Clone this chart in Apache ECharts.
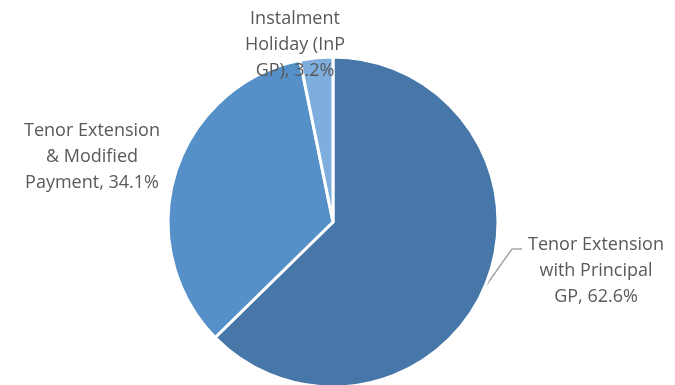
<!DOCTYPE html>
<html><head><meta charset="utf-8">
<script src="https://cdn.jsdelivr.net/npm/echarts@6/dist/echarts.min.js"></script>
<style>html,body{margin:0;padding:0;background:#fff}#c{width:675px;height:385px}</style>
</head><body><div id="c"></div>
<script>
var categories = ['Tenor Extension\nwith Principal\nGP', 'Tenor Extension\n& Modified\nPayment', 'Instalment\nHoliday (InP\nGP)'];
var values = [62.6, 34.1, 3.2];
var colors = ['#4677A8', '#5591C8', '#7EAEDD'];

var labelPos = [
  {x: 596, y: 271, line: [[485, 287], [512, 249], [522, 249]]},
  {x: 92, y: 157},
  {x: 295, y: 45}
];

var chart = echarts.init(document.getElementById('c'), null, {renderer: 'canvas'});
chart.setOption({
  animation: false,
  series: [{
    type: 'pie',
    center: [333, 222],
    radius: [0, 165],
    startAngle: 90,
    clockwise: true,
    avoidLabelOverlap: false,
    itemStyle: {borderColor: '#fff', borderWidth: 3},
    label: {
      show: true,
      position: 'outside',
      formatter: function (p) { return p.name + ', ' + p.value.toFixed(1) + '%'; },
      fontFamily: 'Open Sans',
      fontSize: 18,
      lineHeight: 26,
      color: '#595959',
      align: 'center',
      overflow: 'none',
      width: 300
    },
    labelLine: {show: false},
    labelLayout: function (params) {
      var lp = labelPos[params.dataIndex];
      var o = {x: lp.x, y: lp.y, align: 'center', verticalAlign: 'middle'};
      if (lp.line) o.labelLinePoints = lp.line;
      return o;
    },
    data: categories.map(function (c, i) {
      var d = {name: c, value: values[i], itemStyle: {color: colors[i]}};
      if (i === 0) d.labelLine = {show: true, lineStyle: {color: '#A6A6A6', width: 1.5}};
      return d;
    })
  }]
});
</script></body></html>
